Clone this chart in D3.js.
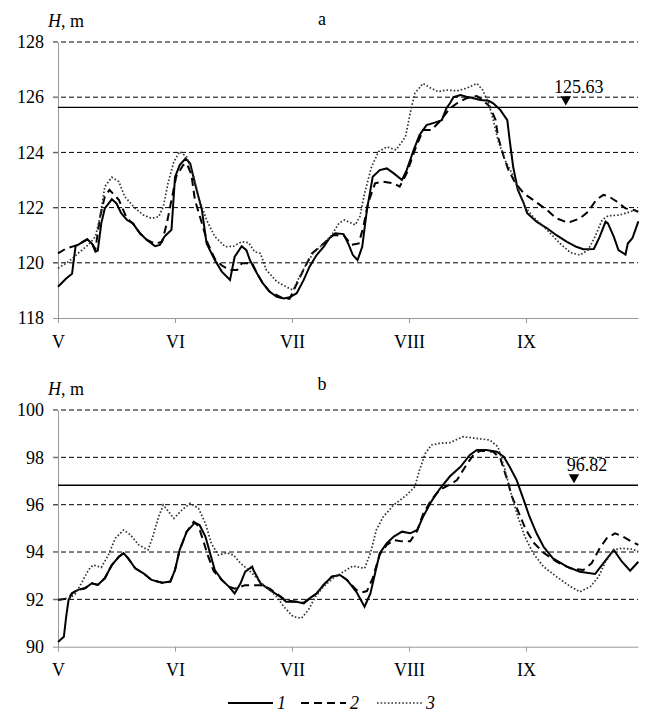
<!DOCTYPE html>
<html><head><meta charset="utf-8"><script src="https://cdn.jsdelivr.net/npm/d3@7"></script></head>
<body style="margin:0;background:#fff">
<script>
// month labels, x in months from 1 May
var months = ["V", "VI", "VII", "VIII", "IX"];
var monthTicks = [0, 1, 2, 3, 4];
var ticksA = [118, 120, 122, 124, 126, 128];
var ticksB = [90, 92, 94, 96, 98, 100];
var levelA = 125.63, levelB = 96.82;
var markA = 4.34, markB = 4.41;
var seriesNames = ["1", "2", "3"];

// panel a
var a1 = [[0,119.13],[0.07,119.43],[0.12,119.6],[0.15,120.6],[0.17,120.65],[0.25,120.85],[0.29,120.7],[0.32,120.4],[0.34,120.44],[0.37,121.43],[0.40,121.97],[0.46,122.3],[0.50,122.15],[0.54,121.8],[0.59,121.55],[0.64,121.43],[0.70,121.07],[0.76,120.83],[0.83,120.6],[0.87,120.65],[0.91,120.95],[0.97,121.2],[1.00,123.1],[1.04,123.54],[1.09,123.78],[1.13,123.6],[1.17,122.88],[1.23,121.91],[1.27,120.7],[1.34,120.1],[1.40,119.68],[1.47,119.38],[1.51,120.22],[1.57,120.6],[1.61,120.46],[1.64,120.1],[1.70,119.62],[1.75,119.26],[1.81,118.95],[1.87,118.77],[1.93,118.71],[1.98,118.75],[2.04,118.9],[2.10,119.38],[2.15,119.86],[2.21,120.28],[2.27,120.58],[2.32,120.89],[2.37,121.07],[2.44,121.04],[2.48,120.7],[2.52,120.28],[2.56,120.1],[2.60,120.58],[2.64,121.91],[2.69,123.12],[2.75,123.36],[2.81,123.42],[2.87,123.24],[2.94,123.0],[2.98,123.36],[3.04,124.09],[3.09,124.63],[3.15,124.99],[3.22,125.08],[3.28,125.17],[3.32,125.6],[3.35,125.78],[3.38,126.0],[3.44,126.08],[3.49,126.02],[3.55,125.96],[3.61,125.9],[3.68,125.87],[3.72,125.78],[3.78,125.54],[3.84,125.17],[3.86,124.45],[3.89,123.48],[3.93,122.64],[3.98,122.16],[4.01,121.8],[4.09,121.49],[4.18,121.25],[4.26,121.0],[4.35,120.76],[4.43,120.58],[4.49,120.49],[4.58,120.5],[4.63,120.95],[4.68,121.49],[4.70,121.43],[4.75,120.95],[4.79,120.46],[4.85,120.3],[4.87,120.7],[4.91,120.9],[4.96,121.5]];
var a2 = [[0,120.34],[0.07,120.52],[0.17,120.65],[0.25,120.85],[0.29,120.7],[0.32,120.5],[0.36,121.67],[0.40,122.4],[0.44,122.64],[0.52,122.28],[0.59,121.6],[0.64,121.43],[0.70,121.07],[0.76,120.83],[0.83,120.7],[0.89,120.76],[0.93,121.43],[0.97,122.28],[1.01,123.12],[1.07,123.54],[1.10,123.6],[1.14,123.2],[1.17,122.28],[1.23,121.43],[1.28,120.7],[1.34,120.15],[1.40,119.9],[1.47,119.74],[1.53,119.74],[1.57,119.98],[1.66,119.98],[1.70,119.62],[1.75,119.26],[1.81,118.95],[1.93,118.7],[1.98,118.7],[2.07,119.5],[2.17,120.34],[2.27,120.7],[2.35,121.0],[2.44,121.0],[2.51,120.65],[2.57,120.7],[2.61,121.31],[2.65,122.16],[2.71,122.88],[2.78,122.94],[2.87,122.88],[2.92,122.76],[2.98,123.24],[3.05,124.09],[3.12,124.81],[3.19,124.81],[3.26,125.11],[3.35,125.6],[3.41,125.78],[3.49,125.96],[3.58,126.04],[3.63,125.9],[3.69,125.66],[3.74,125.17],[3.76,124.57],[3.81,123.84],[3.85,123.36],[3.91,122.88],[3.98,122.52],[4.06,122.28],[4.18,121.91],[4.26,121.61],[4.36,121.45],[4.46,121.61],[4.53,121.85],[4.60,122.28],[4.66,122.46],[4.70,122.42],[4.78,122.21],[4.85,121.97],[4.92,121.91],[4.96,121.85]];
var a3 = [[0,119.8],[0.09,120.04],[0.17,120.34],[0.26,120.65],[0.32,120.95],[0.36,121.67],[0.40,122.76],[0.46,123.1],[0.52,122.94],[0.57,122.4],[0.66,121.97],[0.73,121.73],[0.80,121.61],[0.86,121.67],[0.90,122.03],[0.94,122.88],[0.99,123.66],[1.04,124.03],[1.10,123.84],[1.16,123.12],[1.21,122.28],[1.27,121.55],[1.34,120.95],[1.43,120.58],[1.50,120.6],[1.57,120.76],[1.63,120.73],[1.68,120.4],[1.73,120.34],[1.78,119.74],[1.87,119.32],[1.95,119.13],[2.01,119.01],[2.05,119.38],[2.11,119.86],[2.18,120.34],[2.27,120.7],[2.34,121.0],[2.40,121.43],[2.45,121.55],[2.54,121.37],[2.58,121.67],[2.62,122.52],[2.68,123.48],[2.74,124.03],[2.81,124.2],[2.89,124.09],[2.97,124.57],[3.01,125.42],[3.05,126.14],[3.12,126.5],[3.19,126.32],[3.25,126.2],[3.32,126.26],[3.41,126.23],[3.49,126.32],[3.58,126.5],[3.63,126.26],[3.68,125.78],[3.72,125.17],[3.76,124.45],[3.82,123.72],[3.88,123.24],[3.93,122.7],[3.99,122.03],[4.06,121.67],[4.18,121.19],[4.29,120.7],[4.38,120.37],[4.46,120.28],[4.53,120.46],[4.59,120.95],[4.65,121.55],[4.70,121.7],[4.80,121.73],[4.89,121.85],[4.95,121.94]];

// panel b
var b1 = [[0,90.2],[0.05,90.42],[0.07,91.27],[0.09,91.97],[0.12,92.26],[0.17,92.4],[0.23,92.47],[0.29,92.68],[0.34,92.61],[0.40,92.89],[0.46,93.45],[0.52,93.8],[0.56,93.95],[0.60,93.73],[0.66,93.31],[0.73,93.1],[0.80,92.82],[0.89,92.7],[0.96,92.75],[1.00,93.24],[1.04,94.09],[1.10,94.86],[1.17,95.24],[1.21,95.14],[1.26,94.65],[1.30,93.95],[1.34,93.24],[1.40,92.82],[1.46,92.54],[1.51,92.25],[1.56,92.68],[1.60,93.17],[1.66,93.38],[1.67,93.24],[1.73,92.68],[1.81,92.4],[1.90,92.11],[1.95,91.9],[2.04,91.9],[2.10,91.83],[2.15,92.04],[2.21,92.25],[2.27,92.61],[2.34,92.96],[2.41,93.03],[2.47,92.82],[2.55,92.32],[2.62,91.69],[2.67,92.25],[2.71,93.1],[2.75,93.95],[2.81,94.37],[2.87,94.65],[2.94,94.86],[3.01,94.79],[3.07,94.93],[3.12,95.49],[3.19,96.13],[3.26,96.65],[3.35,97.2],[3.44,97.6],[3.52,98.1],[3.58,98.31],[3.66,98.31],[3.75,98.24],[3.81,98.03],[3.86,97.6],[3.92,97.04],[3.98,96.2],[4.03,95.49],[4.09,94.79],[4.15,94.22],[4.23,93.73],[4.35,93.38],[4.46,93.17],[4.59,93.07],[4.66,93.52],[4.75,94.09],[4.82,93.59],[4.89,93.21],[4.96,93.59]];
var b2 = [[0,91.97],[0.09,92.05],[0.12,92.26],[0.17,92.4],[0.23,92.47],[0.29,92.68],[0.34,92.61],[0.40,92.89],[0.46,93.45],[0.52,93.8],[0.56,93.95],[0.60,93.73],[0.66,93.31],[0.73,93.1],[0.80,92.82],[0.89,92.7],[0.96,92.75],[1.00,93.24],[1.04,94.09],[1.10,94.86],[1.16,95.28],[1.20,95.1],[1.23,94.65],[1.28,93.87],[1.33,93.2],[1.40,92.82],[1.46,92.54],[1.51,92.45],[1.60,92.6],[1.68,92.6],[1.73,92.6],[1.81,92.45],[1.88,92.2],[1.95,91.95],[2.04,91.9],[2.10,91.85],[2.15,92.04],[2.21,92.25],[2.27,92.61],[2.34,92.96],[2.41,93.03],[2.47,92.82],[2.55,92.4],[2.60,92.3],[2.64,92.35],[2.69,92.9],[2.75,93.9],[2.81,94.3],[2.87,94.5],[2.94,94.45],[3.01,94.45],[3.07,94.9],[3.12,95.6],[3.19,96.2],[3.26,96.62],[3.35,96.85],[3.41,97.04],[3.49,97.68],[3.55,98.1],[3.61,98.28],[3.72,98.24],[3.78,97.96],[3.84,97.04],[3.88,96.34],[3.94,95.63],[4.00,94.93],[4.07,94.37],[4.15,93.97],[4.26,93.59],[4.38,93.31],[4.49,93.24],[4.56,93.52],[4.63,94.16],[4.69,94.58],[4.76,94.79],[4.83,94.65],[4.90,94.44],[4.96,94.3]];
var b3 = [[0,92.0],[0.10,92.05],[0.15,92.25],[0.20,92.68],[0.26,93.24],[0.30,93.45],[0.37,93.35],[0.43,93.87],[0.49,94.58],[0.56,94.93],[0.62,94.72],[0.69,94.3],[0.77,94.09],[0.81,94.65],[0.86,95.49],[0.90,95.99],[0.99,95.42],[1.06,95.78],[1.13,96.06],[1.20,95.85],[1.26,95.21],[1.31,94.37],[1.37,93.87],[1.44,93.97],[1.50,93.87],[1.56,93.52],[1.63,93.24],[1.68,93.0],[1.74,92.68],[1.81,92.4],[1.87,92.1],[1.93,91.69],[2.01,91.27],[2.08,91.2],[2.14,91.55],[2.20,92.11],[2.27,92.54],[2.35,92.89],[2.44,93.17],[2.52,93.41],[2.62,93.31],[2.67,93.95],[2.72,94.93],[2.78,95.49],[2.87,95.99],[2.98,96.41],[3.05,96.76],[3.09,97.47],[3.14,98.17],[3.19,98.52],[3.26,98.59],[3.35,98.62],[3.46,98.87],[3.58,98.8],[3.69,98.73],[3.76,98.45],[3.82,97.47],[3.88,96.34],[3.93,95.49],[3.99,94.65],[4.06,93.95],[4.15,93.38],[4.26,92.96],[4.38,92.54],[4.46,92.32],[4.55,92.54],[4.62,92.96],[4.68,93.59],[4.75,94.09],[4.82,94.16],[4.91,94.12],[4.96,94.02]];

var styles = [
  {width: 2, dash: null, color: "#000"},
  {width: 2, dash: "8,5", color: "#000"},
  {width: 1.7, dash: "1.6,2", color: "#333"}
];

var svg = d3.select("body").append("svg")
  .attr("width", 646)
  .attr("height", 713)
  .attr("font-family", "Liberation Serif, Times New Roman, serif")
  .attr("font-size", 18);

var x = d3.scaleLinear().domain([0, 4.957]).range([58, 638]);

function txt(sel) {
  return sel.attr("font-family", "Times New Roman").attr("font-size", 18);
}

function drawPanel(p) {
  var y = d3.scaleLinear().domain([p.ticks[0], p.ticks[p.ticks.length - 1]]).range([p.bottom, p.top]);
  var g = svg.append("g");

  // dashed grid
  g.selectAll(".grid").data(p.ticks.slice(1)).enter().append("line")
    .attr("x1", 53).attr("x2", 638)
    .attr("y1", function(d) { return y(d); })
    .attr("y2", function(d) { return y(d); })
    .style("stroke", "#000").style("stroke-width", 1)
    .style("stroke-dasharray", "5,3");

  var yAxis = g.append("g").attr("transform", "translate(58,0)")
    .call(d3.axisLeft(y).tickValues(p.ticks).tickSize(5).tickSizeOuter(0).tickPadding(9));
  var xAxis = g.append("g").attr("transform", "translate(0," + p.bottom + ")")
    .call(d3.axisBottom(x).tickValues(monthTicks).tickSize(5).tickSizeOuter(0).tickPadding(12)
      .tickFormat(function(d, i) { return months[i]; }));
  [yAxis, xAxis].forEach(function(ax) {
    ax.attr("font-family", null).attr("font-size", null);
    ax.selectAll("path, line").style("stroke", "#999");
    txt(ax.selectAll("text"));
  });

  // level line and marker
  g.append("line")
    .attr("x1", 58).attr("x2", 638)
    .attr("y1", y(p.level)).attr("y2", y(p.level))
    .style("stroke", "#000").style("stroke-width", 1.3);
  g.append("path")
    .attr("d", d3.symbol().type(d3.symbolTriangle).size(48)())
    .attr("transform", "translate(" + x(p.mark) + "," + (y(p.level) - 8) + ") rotate(180)")
    .style("fill", "#000");
  txt(g.append("text"))
    .attr("x", x(p.mark) + 13).attr("y", y(p.level) - 14)
    .attr("text-anchor", "middle")
    .text(p.level.toFixed(2));

  var line = d3.line()
    .x(function(d) { return x(d[0]); })
    .y(function(d) { return y(d[1]); });
  p.series.forEach(function(s, i) {
    g.append("path").datum(s)
      .attr("d", line)
      .style("fill", "none")
      .style("stroke", styles[i].color)
      .style("stroke-width", styles[i].width)
      .style("stroke-dasharray", styles[i].dash);
  });

  var lab = txt(g.append("text")).attr("x", 48).attr("y", p.labelY);
  lab.append("tspan").attr("font-style", "italic").text("H");
  lab.append("tspan").text(", m");
  txt(g.append("text")).attr("x", 322).attr("y", p.letterY)
    .attr("text-anchor", "middle").text(p.letter);
}

drawPanel({ticks: ticksA, top: 42, bottom: 318, level: levelA, mark: markA,
  series: [a1, a2, a3], labelY: 27, letterY: 25, letter: "a"});
drawPanel({ticks: ticksB, top: 410, bottom: 646.7, level: levelB, mark: markB,
  series: [b1, b2, b3], labelY: 395, letterY: 390, letter: "b"});

// legend
var legX = [228, 301, 377];
var leg = svg.append("g");
seriesNames.forEach(function(n, i) {
  leg.append("line")
    .attr("x1", legX[i]).attr("x2", legX[i] + 45)
    .attr("y1", 703).attr("y2", 703)
    .style("stroke", styles[i].color)
    .style("stroke-width", styles[i].width)
    .style("stroke-dasharray", styles[i].dash);
  txt(leg.append("text"))
    .attr("x", legX[i] + 49).attr("y", 709)
    .attr("font-style", "italic")
    .text(n);
});
</script>
</body>
</html>
